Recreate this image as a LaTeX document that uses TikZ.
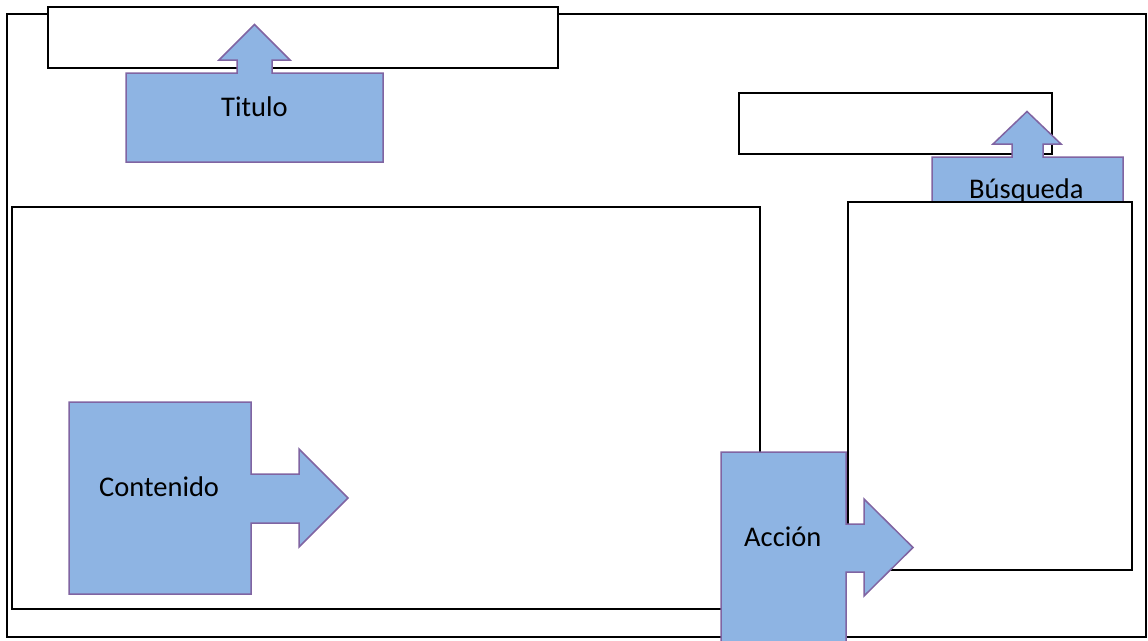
\documentclass[tikz,border=0pt]{standalone}
\usepackage{fontspec}
\setmainfont{Carlito}
\definecolor{calloutfill}{HTML}{8EB4E3}
\definecolor{calloutline}{HTML}{8064A2}
\begin{document}
\begin{tikzpicture}[x=1pt,y=-1pt,
  frame/.style={draw=black,line width=2pt,fill=white},
  callout/.style={draw=calloutline,line width=1.5pt,fill=calloutfill,line join=miter},
  label/.style={inner sep=0pt,anchor=base west,font=\fontsize{28.5}{34}\selectfont}]
\useasboundingbox (0,0) rectangle (1148,640);
\clip (0,0) rectangle (1148,640);

% page frame
\draw[frame] (7,14) rectangle (1146,637);

% title bar and its callout
\draw[frame] (48,7) rectangle (558,68);
\draw[callout] (126,73) -- (237,73) -- (237,60) -- (219,60) -- (254.5,24.5)
  -- (290,60) -- (272,60) -- (272,73) -- (383,73) -- (383,162) -- (126,162) -- cycle;
\node[label] (titulo) at (221,116) {Titulo};

% search field and its callout
\draw[frame] (739,93) rectangle (1052,154);
\draw[callout] (932,157) -- (1012,157) -- (1012,144) -- (993,144) -- (1027,111.5)
  -- (1061,144) -- (1043,144) -- (1043,157) -- (1123,157) -- (1123,215) -- (932,215) -- cycle;
\node[label] (busqueda) at (969,198) {Búsqueda};

% content area
\draw[frame] (11.5,207) rectangle (760,609);

% side panel
\draw[frame] (848,202) rectangle (1132,570);

% content callout
\draw[callout] (69,402) -- (251,402) -- (251,474) -- (299,474) -- (299,449) -- (348,498)
  -- (299,547) -- (299,523) -- (251,523) -- (251,594) -- (69,594) -- cycle;
\node[label] (contenido) at (99,496) {Contenido};

% action callout
\draw[callout] (721,452) -- (846,452) -- (846,524) -- (864,524) -- (864,499) -- (913,547.5)
  -- (864,596) -- (864,572) -- (846,572) -- (846,660) -- (721,660) -- cycle;
\node[label] (accion) at (744,546) {Acción};
\end{tikzpicture}
\end{document}
